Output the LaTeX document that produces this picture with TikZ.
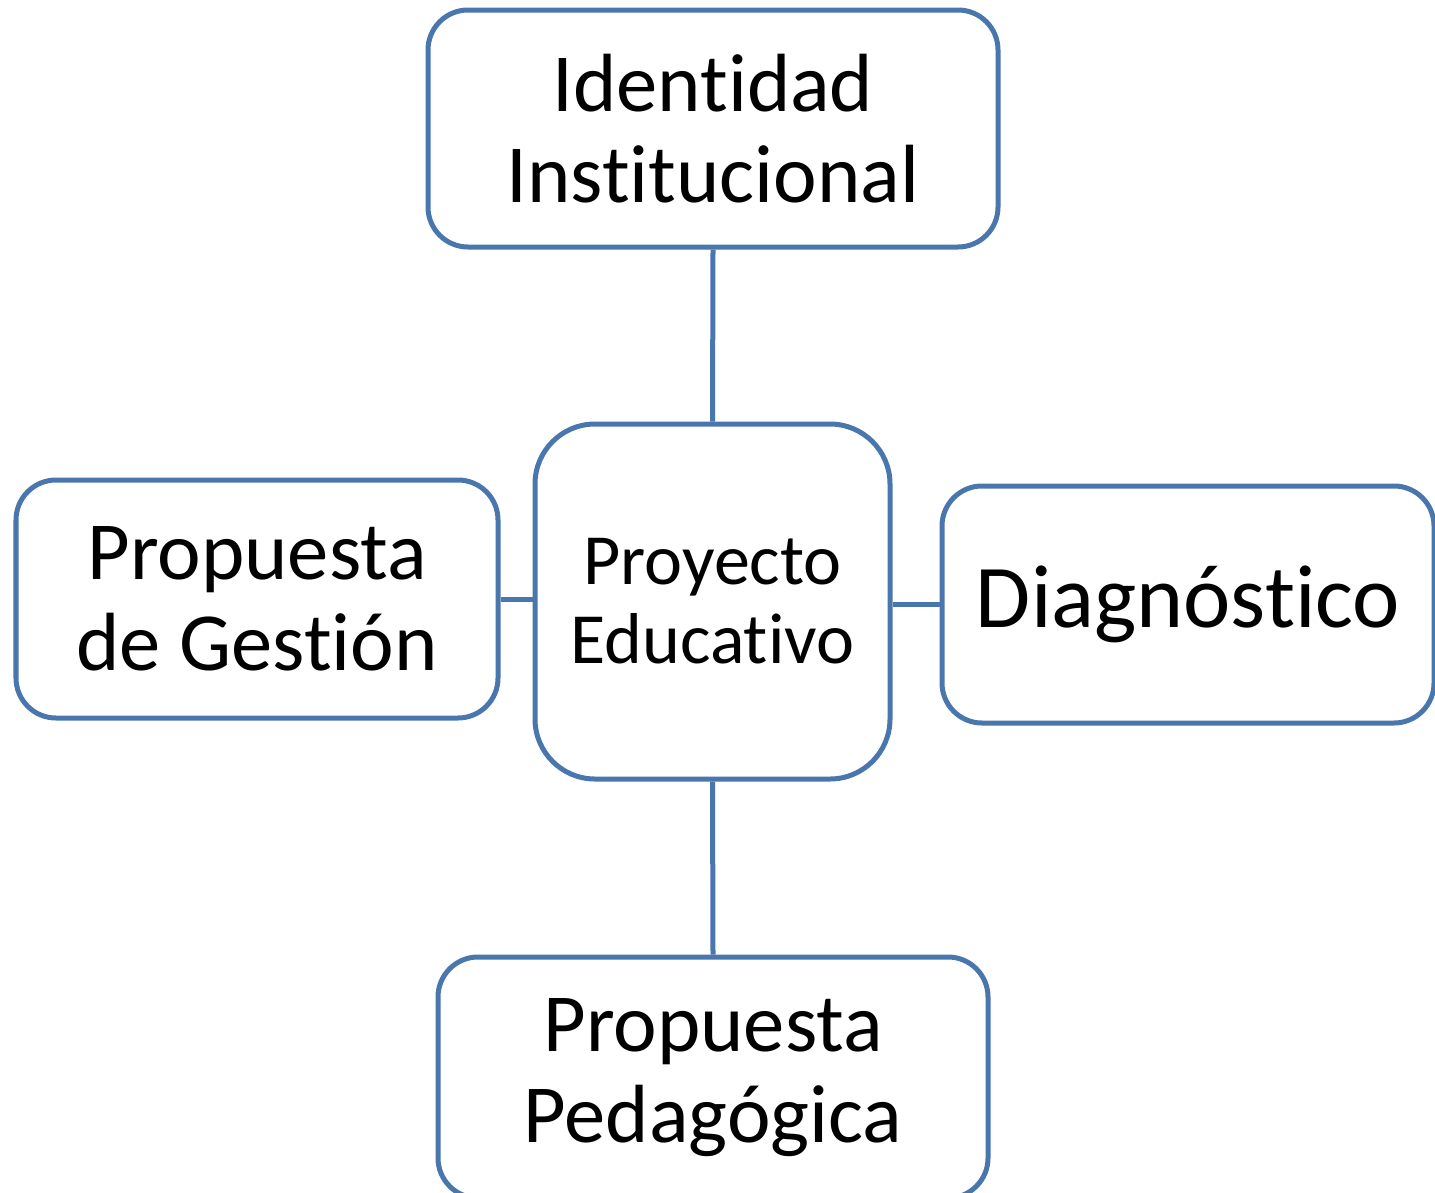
\documentclass[tikz,border=0pt]{standalone}
\usepackage{fontspec}
\setmainfont{Carlito}
\definecolor{boxblue}{HTML}{4A76AE}
% break the t-i ligature of Carlito
\newcommand{\tI}{t\kern0pt i}
\begin{document}
\begin{tikzpicture}[every node/.style={draw=boxblue,line width=0.1cm,rounded corners=0.8cm,align=center,inner sep=0pt}]
\useasboundingbox (0,0) rectangle (28.7,-23.84);
\node[minimum width=11.4cm,minimum height=4.74cm,font=\fontsize{47}{52}\selectfont] (ident) at (14.26,-2.57) {Iden\tI dad\\Ins\tI tucional};
\node[minimum width=7.1cm,minimum height=7.1cm,rounded corners=1.2cm,font=\fontsize{41}{45}\selectfont] (proy) at (14.25,-12.03) {Proyecto\\Educa\tI vo};
\node[minimum width=9.64cm,minimum height=4.76cm,font=\fontsize{47}{52}\selectfont] (gest) at (5.14,-11.98) {Propuesta\\de Ges\tI ón};
\node[minimum width=9.84cm,minimum height=4.74cm,font=\fontsize{51}{56}\selectfont] (diag) at (23.76,-12.09) {Diagnós\tI co};
\node[minimum width=11.0cm,minimum height=4.82cm,font=\fontsize{47}{52}\selectfont] (ped) at (14.26,-21.55) {Propuesta\\Pedagógica};
\draw[boxblue,line width=0.1cm] (ident.south) -- (proy.north);
\draw[boxblue,line width=0.1cm] (gest.east) -- (gest.east -| proy.west);
\draw[boxblue,line width=0.1cm] (diag.west) -- (diag.west -| proy.east);
\draw[boxblue,line width=0.1cm] (ped.north) -- (proy.south);
\end{tikzpicture}
\end{document}
